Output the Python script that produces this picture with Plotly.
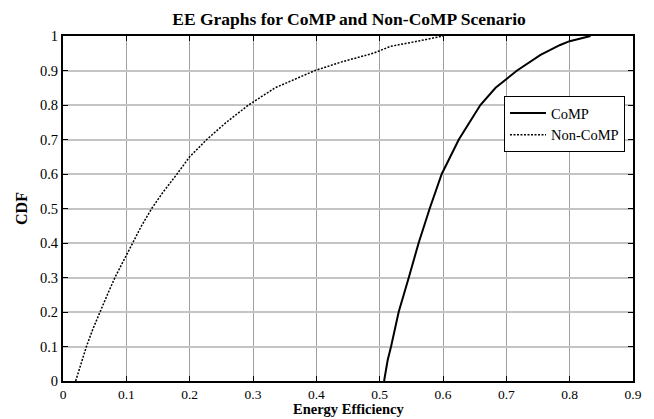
import plotly.graph_objects as go

# Data
comp_x = [0.507, 0.5126, 0.518, 0.530, 0.546, 0.5615, 0.579, 0.598, 0.625,
          0.659, 0.683, 0.717, 0.754, 0.785, 0.800, 0.833]
comp_y = [0.0, 0.06, 0.1, 0.2, 0.3, 0.4, 0.5, 0.6, 0.7,
          0.8, 0.85, 0.9, 0.945, 0.974, 0.985, 1.0]

noncomp_x = [0.020, 0.028, 0.037, 0.047, 0.058, 0.070, 0.082, 0.096, 0.109,
             0.124, 0.140, 0.159, 0.180, 0.200, 0.227, 0.258, 0.293, 0.335,
             0.398, 0.440, 0.490, 0.517, 0.560, 0.600]
noncomp_y = [0.0, 0.05, 0.1, 0.15, 0.2, 0.25, 0.3, 0.35, 0.4,
             0.45, 0.5, 0.55, 0.6, 0.65, 0.7, 0.75, 0.8, 0.85,
             0.9, 0.925, 0.95, 0.97, 0.985, 1.0]

x_ticks = [0, 0.1, 0.2, 0.3, 0.4, 0.5, 0.6, 0.7, 0.8, 0.9]
x_tick_labels = ["0", "0.1", "0.2", "0.3", "0.4", "0.5", "0.6", "0.7", "0.8", "0.9"]
y_ticks = [0, 0.1, 0.2, 0.3, 0.4, 0.5, 0.6, 0.7, 0.8, 0.9, 1]
y_tick_labels = ["0", "0.1", "0.2", "0.3", "0.4", "0.5", "0.6", "0.7", "0.8", "0.9", "1"]

title_text = "EE Graphs for CoMP and Non-CoMP Scenario"
x_title = "Energy Efficiency"
y_title = "CDF"

FONT = "Liberation Serif, Times New Roman, serif"

fig = go.Figure()
fig.add_trace(go.Scatter(x=comp_x, y=comp_y, mode="lines", name="CoMP",
                         line=dict(color="black", width=2, dash="solid")))
fig.add_trace(go.Scatter(x=noncomp_x, y=noncomp_y, mode="lines", name="Non-CoMP",
                         line=dict(color="black", width=1.5, dash="2px,1.5px")))

fig.update_layout(
    width=654, height=419,
    margin=dict(l=63, r=21, t=36, b=38, autoexpand=False),
    paper_bgcolor="white", plot_bgcolor="white",
    font=dict(family=FONT, size=14, color="black"),
    title=dict(text="<b>" + title_text + "</b>", x=349 / 654, xanchor="center",
               y=1 - 19 / 419, yanchor="middle",
               font=dict(family=FONT, size=17.5, color="black")),
    showlegend=True,
    legend=dict(x=(504 - 63) / 570, y=(381 - 96) / 345, xanchor="left", yanchor="top",
                bgcolor="white", bordercolor="black", borderwidth=1,
                font=dict(family=FONT, size=14.5, color="black"),
                tracegroupgap=0, itemwidth=36),
    annotations=[dict(text="<b>" + x_title + "</b>", xref="paper", yref="paper",
                      x=0.5, y=-38 / 345, xanchor="center", yanchor="bottom",
                      showarrow=False,
                      font=dict(family=FONT, size=14.5, color="black"))],
)

fig.update_xaxes(
    range=[0, 0.9], tickvals=x_ticks, ticktext=x_tick_labels,
    automargin=False,
    showgrid=True, gridcolor="#a0a0a0", gridwidth=1,
    showline=True, linecolor="black", linewidth=2, mirror="ticks",
    ticks="inside", ticklen=5, tickcolor="black", tickwidth=1,
    zeroline=False,
    tickfont=dict(family=FONT, size=13.5, color="black"),
)
fig.update_yaxes(
    range=[0, 1], tickvals=y_ticks, ticktext=y_tick_labels,
    automargin=False,
    showgrid=True, gridcolor="#c4c4c4", gridwidth=1.5,
    showline=True, linecolor="black", linewidth=2, mirror="ticks",
    ticks="inside", ticklen=5, tickcolor="black", tickwidth=1,
    zeroline=False,
    title=dict(text="<b>" + y_title + "</b>", standoff=8,
               font=dict(family=FONT, size=16, color="black")),
    tickfont=dict(family=FONT, size=14.5, color="black"),
)

fig.write_html("out.html",
               config={"displayModeBar": False},
               post_script="document.body.style.margin='0';document.body.style.padding='0';")
